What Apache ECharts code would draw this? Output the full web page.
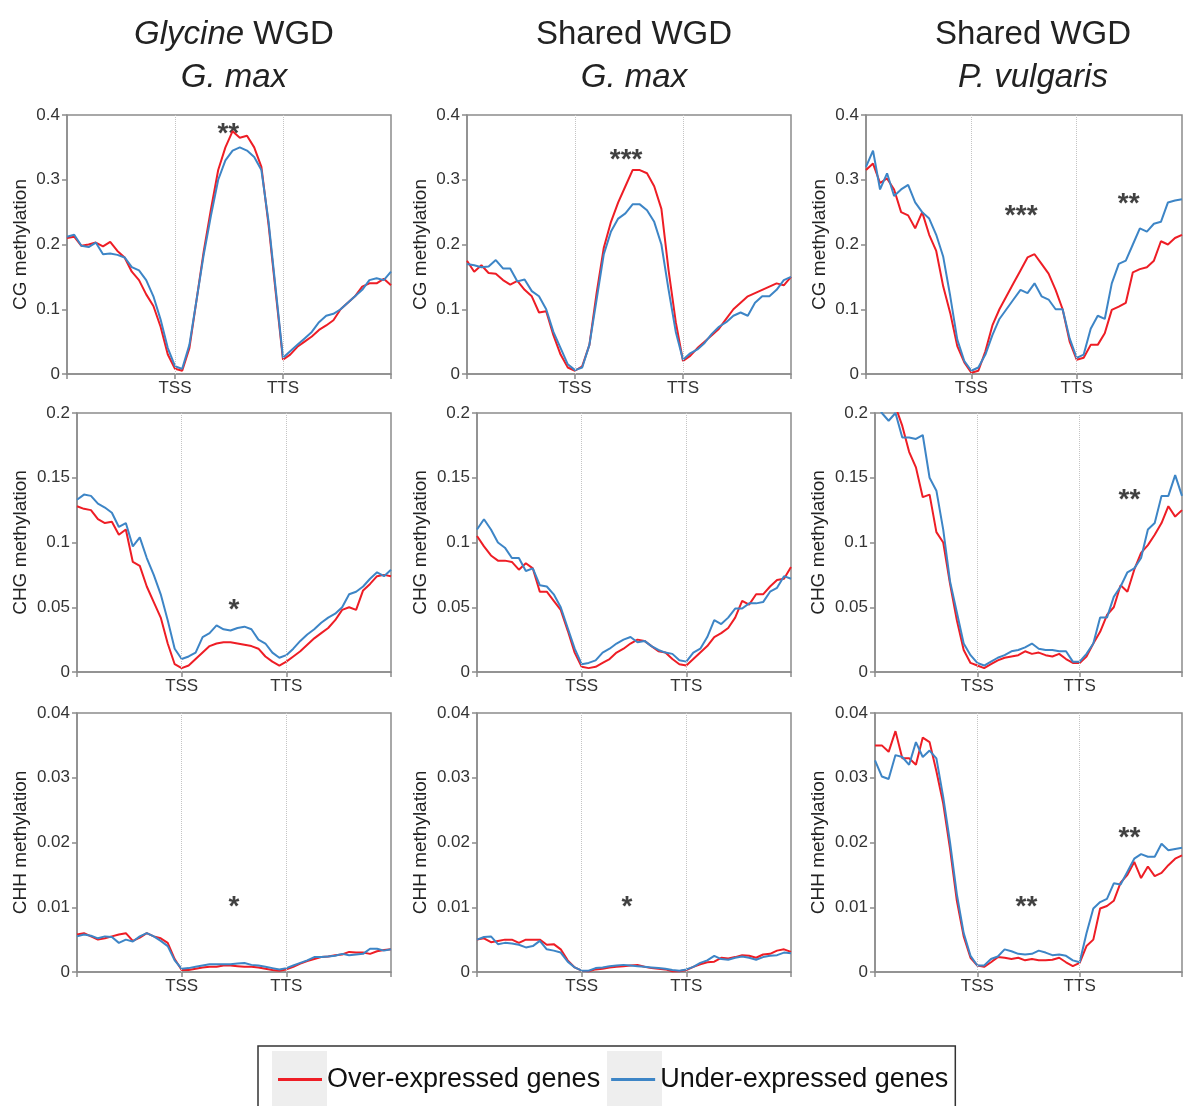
<!DOCTYPE html>
<html>
<head>
<meta charset="utf-8">
<title>Methylation profiles</title>
<script src="https://cdn.jsdelivr.net/npm/echarts@6/dist/echarts.min.js"></script>
<style>
  html, body { margin: 0; padding: 0; background: #fff; }
  #main { width: 1185px; height: 1106px; }
</style>
</head>
<body>
<div id="main"></div>
<script>
// bins: 15 upstream, 15 gene body, 15 downstream (TSS at 15, TTS at 30)
var tickBins = [0, 15, 30, 45];
var tickNames = ['', 'TSS', 'TTS', ''];
var siteBins = [15, 30];

var seriesNames = ['Over-expressed genes', 'Under-expressed genes'];
var rowNames = ['CG methylation', 'CHG methylation', 'CHH methylation'];
var rowMax = [0.4, 0.2, 0.04];
var rowStep = [0.1, 0.05, 0.01];

// CG, Glycine WGD G. max
var cgGlycineOver = [0.210, 0.212, 0.198, 0.200, 0.203, 0.197, 0.204, 0.190, 0.180, 0.158, 0.145, 0.123, 0.105, 0.073, 0.030, 0.008, 0.005, 0.040, 0.115, 0.190, 0.255, 0.315, 0.350, 0.375, 0.365, 0.368, 0.350, 0.320, 0.230, 0.125, 0.022, 0.030, 0.042, 0.050, 0.058, 0.068, 0.075, 0.083, 0.100, 0.110, 0.120, 0.135, 0.140, 0.140, 0.147, 0.137];
var cgGlycineUnder = [0.212, 0.215, 0.198, 0.196, 0.203, 0.185, 0.186, 0.184, 0.180, 0.165, 0.160, 0.145, 0.120, 0.084, 0.040, 0.012, 0.008, 0.045, 0.115, 0.185, 0.245, 0.300, 0.330, 0.345, 0.350, 0.345, 0.335, 0.315, 0.235, 0.130, 0.025, 0.035, 0.045, 0.055, 0.065, 0.080, 0.090, 0.093, 0.100, 0.110, 0.120, 0.130, 0.145, 0.148, 0.145, 0.158];
// CG, Shared WGD G. max
var cgSharedMaxOver = [0.175, 0.158, 0.168, 0.156, 0.155, 0.145, 0.138, 0.144, 0.130, 0.120, 0.095, 0.097, 0.060, 0.030, 0.010, 0.005, 0.012, 0.045, 0.125, 0.195, 0.235, 0.265, 0.290, 0.315, 0.315, 0.310, 0.290, 0.255, 0.160, 0.080, 0.020, 0.028, 0.040, 0.050, 0.060, 0.070, 0.085, 0.100, 0.110, 0.120, 0.125, 0.130, 0.135, 0.140, 0.137, 0.150];
var cgSharedMaxUnder = [0.170, 0.168, 0.165, 0.166, 0.176, 0.163, 0.163, 0.143, 0.146, 0.128, 0.120, 0.100, 0.065, 0.040, 0.015, 0.006, 0.010, 0.045, 0.115, 0.185, 0.220, 0.240, 0.248, 0.262, 0.262, 0.253, 0.235, 0.200, 0.130, 0.065, 0.022, 0.032, 0.038, 0.048, 0.062, 0.073, 0.080, 0.090, 0.095, 0.090, 0.110, 0.120, 0.120, 0.130, 0.145, 0.150];
// CG, Shared WGD P. vulgaris
var cgSharedVulOver = [0.315, 0.325, 0.295, 0.302, 0.285, 0.250, 0.245, 0.225, 0.250, 0.215, 0.190, 0.135, 0.094, 0.043, 0.018, 0.002, 0.005, 0.035, 0.075, 0.100, 0.120, 0.140, 0.160, 0.180, 0.185, 0.170, 0.155, 0.130, 0.100, 0.050, 0.022, 0.025, 0.045, 0.045, 0.063, 0.099, 0.104, 0.110, 0.157, 0.162, 0.165, 0.175, 0.205, 0.200, 0.210, 0.215];
var cgSharedVulUnder = [0.320, 0.345, 0.285, 0.310, 0.275, 0.285, 0.292, 0.265, 0.250, 0.240, 0.215, 0.181, 0.120, 0.053, 0.020, 0.005, 0.010, 0.030, 0.060, 0.085, 0.100, 0.115, 0.130, 0.125, 0.140, 0.120, 0.115, 0.100, 0.100, 0.055, 0.025, 0.030, 0.070, 0.090, 0.085, 0.140, 0.170, 0.175, 0.200, 0.225, 0.220, 0.232, 0.235, 0.265, 0.268, 0.270];

// CHG
var chgGlycineOver = [0.128, 0.126, 0.125, 0.118, 0.115, 0.116, 0.106, 0.110, 0.085, 0.082, 0.066, 0.054, 0.042, 0.022, 0.006, 0.003, 0.005, 0.010, 0.015, 0.020, 0.022, 0.023, 0.023, 0.022, 0.021, 0.020, 0.018, 0.012, 0.008, 0.005, 0.008, 0.012, 0.016, 0.021, 0.026, 0.030, 0.034, 0.040, 0.048, 0.050, 0.048, 0.063, 0.068, 0.074, 0.075, 0.074];
var chgGlycineUnder = [0.133, 0.137, 0.136, 0.130, 0.127, 0.123, 0.112, 0.115, 0.097, 0.104, 0.088, 0.075, 0.060, 0.040, 0.018, 0.010, 0.012, 0.015, 0.027, 0.030, 0.036, 0.033, 0.032, 0.034, 0.035, 0.033, 0.025, 0.022, 0.015, 0.011, 0.013, 0.018, 0.024, 0.029, 0.033, 0.038, 0.042, 0.045, 0.050, 0.060, 0.062, 0.066, 0.072, 0.077, 0.074, 0.079];
var chgSharedMaxOver = [0.105, 0.097, 0.090, 0.086, 0.086, 0.085, 0.079, 0.084, 0.080, 0.062, 0.062, 0.055, 0.048, 0.032, 0.015, 0.004, 0.003, 0.004, 0.007, 0.010, 0.015, 0.018, 0.022, 0.025, 0.024, 0.020, 0.016, 0.015, 0.010, 0.006, 0.005, 0.010, 0.015, 0.020, 0.027, 0.030, 0.034, 0.042, 0.055, 0.052, 0.060, 0.060, 0.066, 0.071, 0.072, 0.081];
var chgSharedMaxUnder = [0.110, 0.118, 0.110, 0.100, 0.096, 0.088, 0.088, 0.078, 0.080, 0.067, 0.066, 0.060, 0.050, 0.034, 0.018, 0.006, 0.007, 0.009, 0.015, 0.018, 0.022, 0.025, 0.027, 0.023, 0.024, 0.020, 0.017, 0.015, 0.014, 0.009, 0.008, 0.015, 0.018, 0.027, 0.040, 0.037, 0.042, 0.049, 0.049, 0.053, 0.053, 0.054, 0.062, 0.065, 0.074, 0.072];
var chgSharedVulOver = [0.225, 0.220, 0.215, 0.205, 0.190, 0.170, 0.158, 0.135, 0.137, 0.108, 0.100, 0.068, 0.040, 0.017, 0.007, 0.005, 0.003, 0.006, 0.009, 0.011, 0.012, 0.013, 0.016, 0.014, 0.015, 0.013, 0.012, 0.014, 0.010, 0.007, 0.007, 0.012, 0.022, 0.031, 0.044, 0.050, 0.067, 0.062, 0.079, 0.092, 0.098, 0.106, 0.115, 0.128, 0.120, 0.125];
var chgSharedVulUnder = [0.210, 0.200, 0.194, 0.200, 0.181, 0.181, 0.180, 0.183, 0.150, 0.140, 0.110, 0.070, 0.046, 0.022, 0.013, 0.007, 0.005, 0.008, 0.011, 0.013, 0.016, 0.017, 0.019, 0.022, 0.018, 0.017, 0.017, 0.016, 0.016, 0.008, 0.008, 0.014, 0.022, 0.042, 0.042, 0.058, 0.066, 0.077, 0.080, 0.088, 0.110, 0.115, 0.136, 0.136, 0.152, 0.136];

// CHH
var chhGlycineOver = [0.0058, 0.0060, 0.0055, 0.0050, 0.0052, 0.0055, 0.0058, 0.0060, 0.0048, 0.0053, 0.0060, 0.0055, 0.0052, 0.0045, 0.0020, 0.0003, 0.0003, 0.0005, 0.0007, 0.0008, 0.0008, 0.0010, 0.0010, 0.0009, 0.0008, 0.0008, 0.0007, 0.0005, 0.0003, 0.0002, 0.0004, 0.0008, 0.0013, 0.0017, 0.0020, 0.0023, 0.0024, 0.0026, 0.0027, 0.0031, 0.0030, 0.0030, 0.0028, 0.0032, 0.0034, 0.0035];
var chhGlycineUnder = [0.0055, 0.0058, 0.0056, 0.0052, 0.0055, 0.0054, 0.0045, 0.0050, 0.0047, 0.0055, 0.0060, 0.0055, 0.0048, 0.0040, 0.0018, 0.0005, 0.0006, 0.0008, 0.0010, 0.0012, 0.0012, 0.0012, 0.0012, 0.0013, 0.0014, 0.0011, 0.0010, 0.0008, 0.0006, 0.0004, 0.0006, 0.0010, 0.0014, 0.0018, 0.0023, 0.0023, 0.0024, 0.0025, 0.0028, 0.0026, 0.0027, 0.0028, 0.0036, 0.0036, 0.0033, 0.0035];
var chhSharedMaxOver = [0.0050, 0.0052, 0.0046, 0.0048, 0.0050, 0.0050, 0.0045, 0.0050, 0.0050, 0.0050, 0.0042, 0.0043, 0.0035, 0.0018, 0.0007, 0.0002, 0.0001, 0.0004, 0.0005, 0.0007, 0.0008, 0.0009, 0.0010, 0.0011, 0.0008, 0.0006, 0.0005, 0.0004, 0.0001, 0.0001, 0.0003, 0.0008, 0.0012, 0.0015, 0.0016, 0.0022, 0.0021, 0.0023, 0.0026, 0.0025, 0.0022, 0.0027, 0.0028, 0.0033, 0.0035, 0.0031];
var chhSharedMaxUnder = [0.0050, 0.0054, 0.0055, 0.0043, 0.0045, 0.0044, 0.0042, 0.0038, 0.0040, 0.0048, 0.0035, 0.0033, 0.0030, 0.0016, 0.0007, 0.0002, 0.0002, 0.0006, 0.0007, 0.0009, 0.0010, 0.0011, 0.0010, 0.0009, 0.0008, 0.0007, 0.0006, 0.0005, 0.0003, 0.0002, 0.0004, 0.0008, 0.0014, 0.0018, 0.0025, 0.0020, 0.0019, 0.0022, 0.0024, 0.0022, 0.0019, 0.0023, 0.0025, 0.0026, 0.0030, 0.0029];
var chhSharedVulOver = [0.0350, 0.0350, 0.0340, 0.0372, 0.0330, 0.0330, 0.0320, 0.0362, 0.0355, 0.0310, 0.0260, 0.0190, 0.0110, 0.0055, 0.0022, 0.0010, 0.0008, 0.0015, 0.0023, 0.0022, 0.0020, 0.0022, 0.0018, 0.0020, 0.0018, 0.0018, 0.0019, 0.0022, 0.0015, 0.0009, 0.0014, 0.0040, 0.0050, 0.0098, 0.0102, 0.0110, 0.0138, 0.0150, 0.0170, 0.0145, 0.0163, 0.0148, 0.0153, 0.0165, 0.0175, 0.0180];
var chhSharedVulUnder = [0.0327, 0.0302, 0.0298, 0.0335, 0.0332, 0.0320, 0.0355, 0.0332, 0.0342, 0.0330, 0.0270, 0.0200, 0.0120, 0.0060, 0.0025, 0.0010, 0.0010, 0.0020, 0.0024, 0.0035, 0.0032, 0.0028, 0.0027, 0.0028, 0.0033, 0.0030, 0.0026, 0.0027, 0.0025, 0.0018, 0.0015, 0.0060, 0.0098, 0.0108, 0.0113, 0.0137, 0.0135, 0.0155, 0.0175, 0.0182, 0.0178, 0.0178, 0.0198, 0.0188, 0.0190, 0.0192];

// significance marks: [panel, bin, value, text]
var notes = [
  [0, 22.4, 0.383, '**'],
  [1, 22.1, 0.343, '***'],
  [2, 22.1, 0.256, '***'],
  [2, 37.4, 0.275, '**'],
  [3, 22.5, 0.054, '*'],
  [5, 37.3, 0.139, '**'],
  [6, 22.5, 0.0112, '*'],
  [7, 21.5, 0.0112, '*'],
  [8, 22.2, 0.0112, '**'],
  [8, 37.3, 0.0219, '**']
];

var columnTitles = [
  '{i|Glycine} WGD\n{i|G. max}',
  'Shared WGD\n{i|G. max}',
  'Shared WGD\n{i|P. vulgaris}'
];

// panels in reading order (row by row)
var panels = [
  [cgGlycineOver, cgGlycineUnder], [cgSharedMaxOver, cgSharedMaxUnder], [cgSharedVulOver, cgSharedVulUnder],
  [chgGlycineOver, chgGlycineUnder], [chgSharedMaxOver, chgSharedMaxUnder], [chgSharedVulOver, chgSharedVulUnder],
  [chhGlycineOver, chhGlycineUnder], [chhSharedMaxOver, chhSharedMaxUnder], [chhSharedVulOver, chhSharedVulUnder]
];

// layout (pixels)
var rowTop = [115, 413, 713];
var rowHeight = 259;
var colLeft = [[67, 467, 866], [77, 477, 875], [77, 477, 875]];
var rowWidth = [324, 314, 314];
var nameGap = [37, 47, 47];

var FONT = '"Liberation Sans", Arial, Helvetica, sans-serif';
var RED = '#ee1d25';
var BLUE = '#3d85c6';
var AXIS = '#8c8c8c';

var chartDom = document.getElementById('main');
var myChart = echarts.init(chartDom, null, { renderer: 'canvas' });

var grids = [], xAxes = [], yAxes = [], series = [];

panels.forEach(function (pair, p) {
  var row = Math.floor(p / 3), col = p % 3;
  grids.push({
    left: colLeft[row][col],
    top: rowTop[row],
    width: rowWidth[row],
    height: rowHeight,
    show: true,
    borderColor: AXIS,
    borderWidth: 1.5,
    backgroundColor: 'transparent'
  });
  xAxes.push({
    gridIndex: p,
    type: 'value',
    min: tickBins[0],
    max: tickBins[tickBins.length - 1],
    interval: 15,
    axisLine: { lineStyle: { color: AXIS, width: 1.5 } },
    axisTick: { show: true, length: 5, lineStyle: { color: AXIS, width: 1.5 } },
    axisLabel: {
      margin: 6,
      fontSize: 17,
      color: '#333',
      fontFamily: FONT,
      formatter: function (v) { var i = tickBins.indexOf(v); return i >= 0 ? tickNames[i] : ''; }
    },
    splitLine: { show: false }
  });
  yAxes.push({
    gridIndex: p,
    type: 'value',
    min: 0,
    max: rowMax[row],
    interval: rowStep[row],
    name: rowNames[row],
    nameLocation: 'middle',
    nameGap: nameGap[row],
    nameTextStyle: { fontSize: 19, color: '#222', fontFamily: FONT },
    axisLine: { show: true, lineStyle: { color: AXIS, width: 1.5 } },
    axisTick: { show: true, length: 5, lineStyle: { color: AXIS, width: 1.5 } },
    axisLabel: { margin: 7, fontSize: 17, color: '#333', fontFamily: FONT },
    splitLine: { show: false }
  });
  pair.forEach(function (values, k) {
    var color = k === 0 ? RED : BLUE;
    series.push({
      type: 'line',
      name: seriesNames[k],
      xAxisIndex: p,
      yAxisIndex: p,
      data: values.map(function (v, i) { return [i, v]; }),
      showSymbol: false,
      clip: true,
      lineStyle: { color: color, width: 2 },
      itemStyle: { color: color },
      z: 3 + k,
      markLine: k === 0 ? {
        silent: true,
        symbol: ['none', 'none'],
        label: { show: false },
        lineStyle: { type: 'dotted', color: '#c4c4c4', width: 1 },
        data: siteBins.map(function (b) { return { xAxis: b }; })
      } : undefined
    });
  });
  series.push({
    type: 'scatter',
    xAxisIndex: p,
    yAxisIndex: p,
    silent: true,
    symbolSize: 1,
    itemStyle: { color: 'rgba(0,0,0,0)' },
    label: {
      show: true,
      position: 'inside',
      offset: [0, 8],
      fontSize: 28,
      fontWeight: 'bold',
      color: '#111',
      fontFamily: FONT,
      formatter: function (d) { return d.name; }
    },
    data: notes.filter(function (n) { return n[0] === p; })
      .map(function (n) { return { name: n[3], value: [n[1], n[2]] }; })
  });
});

var titles = columnTitles.map(function (t, col) {
  return {
    text: t,
    left: colLeft[0][col] + rowWidth[0] / 2,
    top: 8,
    textAlign: 'center',
    textStyle: {
      fontSize: 33,
      fontWeight: 'normal',
      color: '#222',
      fontFamily: FONT,
      lineHeight: 43,
      rich: { i: { fontStyle: 'italic', fontSize: 33, color: '#222', fontFamily: FONT, lineHeight: 43 } }
    }
  };
});

var option = {
  animation: false,
  backgroundColor: '#fff',
  textStyle: { fontFamily: FONT },
  title: titles,
  legend: {
    data: seriesNames,
    left: 258,
    top: 1046,
    orient: 'horizontal',
    icon: 'rect',
    itemWidth: 44,
    itemHeight: 3,
    itemGap: 11,
    padding: [20, 7, 40, 20],
    borderColor: '#333',
    borderWidth: 1.5,
    textStyle: { fontSize: 27, color: '#111', fontFamily: FONT }
  },
  graphic: [
    { type: 'rect', z: 1, shape: { x: 272, y: 1051, width: 55, height: 60 }, style: { fill: '#eeeeee' } },
    { type: 'rect', z: 1, shape: { x: 607, y: 1051, width: 55, height: 60 }, style: { fill: '#eeeeee' } }
  ],
  grid: grids,
  xAxis: xAxes,
  yAxis: yAxes,
  series: series
};

option && myChart.setOption(option);
</script>
</body>
</html>
